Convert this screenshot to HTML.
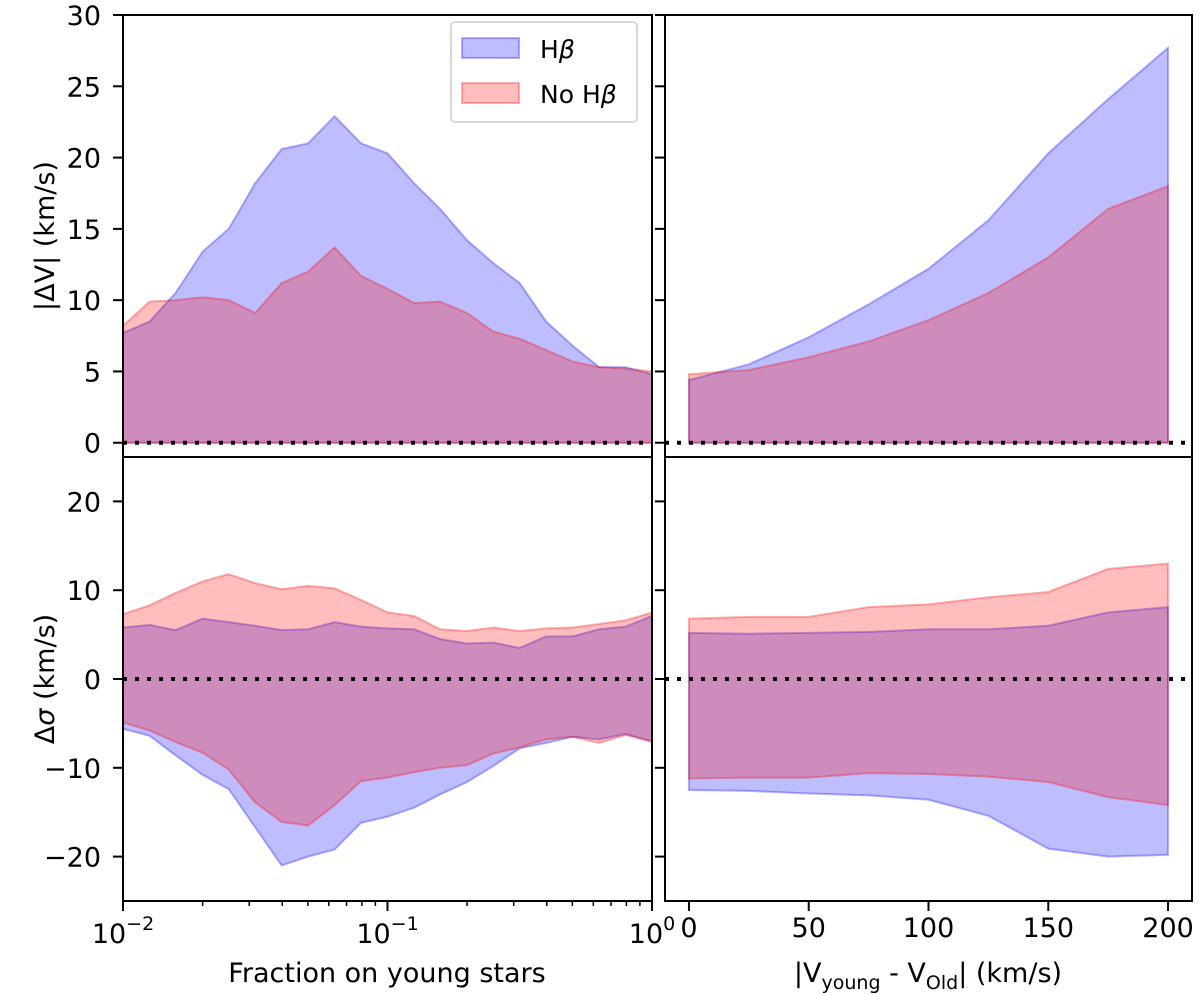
<!DOCTYPE html>
<html><head><meta charset="utf-8"><style>body{margin:0;background:#fff}svg{display:block;font-family:"DejaVu Sans","Liberation Sans",sans-serif}</style></head>
<body>
<svg id="c" width="1200" height="995"></svg>
<script>
const fracX=[0.01,0.0126,0.0158,0.02,0.0251,0.0316,0.0398,0.0501,0.0631,0.0794,0.1,0.126,0.158,0.2,0.251,0.316,0.398,0.501,0.631,0.794,1];
const dvHb=[7.7,8.5,10.5,13.4,15,18.2,20.6,21,22.9,21,20.3,18.2,16.4,14.2,12.6,11.2,8.5,6.8,5.3,5.3,4.8];
const dvNo=[8.2,9.9,10,10.2,10,9.1,11.2,12,13.7,11.7,10.8,9.8,9.9,9.1,7.8,7.3,6.5,5.7,5.3,5.2,5.0];
const dsHbUp=[5.8,6.1,5.5,6.8,6.4,6,5.5,5.6,6.4,5.9,5.7,5.6,4.5,4,4.1,3.5,4.8,4.8,5.6,5.9,7.1];
const dsHbLo=[-5.6,-6.4,-8.6,-10.8,-12.4,-16.7,-21,-20,-19.2,-16.2,-15.5,-14.5,-13,-11.6,-9.8,-7.8,-7.2,-6.5,-6.8,-6.2,-7];
const dsNoUp=[7.3,8.3,9.7,11,11.8,10.8,10.1,10.5,10.2,8.9,7.5,7.1,5.6,5.4,5.8,5.4,5.7,5.8,6.2,6.6,7.5];
const dsNoLo=[-4.9,-5.8,-7.1,-8.3,-10.2,-13.9,-16.1,-16.5,-14.2,-11.5,-11.1,-10.5,-10,-9.7,-8.4,-7.7,-6.8,-6.5,-7.2,-6.3,-7.1];
const velX=[0,25,50,75,100,125,150,175,200];
const rvHb=[4.4,5.5,7.4,9.7,12.2,15.6,20.3,24.1,27.7];
const rvNo=[4.8,5.1,6,7.1,8.6,10.5,13,16.4,18];
const rsHbUp=[5.2,5.1,5.2,5.3,5.6,5.6,6,7.5,8.1];
const rsHbLo=[-12.5,-12.6,-12.9,-13.1,-13.6,-15.4,-19.1,-20,-19.8];
const rsNoUp=[6.8,7,7,8.1,8.4,9.2,9.8,12.4,13];
const rsNoLo=[-11.2,-11.1,-11.1,-10.6,-10.7,-11,-11.6,-13.3,-14.2];
const topTicks=[0,5,10,15,20,25,30];
const botTicks=[-20,-10,0,10,20];
const velTicks=[0,50,100,150,200];

const NS="http://www.w3.org/2000/svg",svg=document.getElementById('c');
function el(t,a,p){const e=document.createElementNS(NS,t);for(const k in a)e.setAttribute(k,a[k]);(p||svg).appendChild(e);return e;}
const L={x0:123,x1:652},R={x0:665,x1:1192},T={y0:15,y1:457},B={y0:457,y1:901};
const xLog=v=>L.x0+(Math.log10(v)+2)/2*(L.x1-L.x0);
const xLin=v=>R.x0+(v+10)/220*(R.x1-R.x0);
const yTop=v=>T.y1-(v+1)/31*(T.y1-T.y0);
const yBot=v=>B.y1-(v+25)/50*(B.y1-B.y0);
const BLUE={fill:'rgba(0,0,255,0.26)',stroke:'rgba(0,0,255,0.3)'},RED={fill:'rgba(255,0,0,0.26)',stroke:'rgba(255,0,0,0.3)'};
function band(xs,up,lo,fx,fy,c,name){
  let d='M'+xs.map((x,i)=>fx(x)+','+fy(up[i])).join('L');
  for(let i=xs.length-1;i>=0;i--)d+='L'+fx(xs[i])+','+fy(lo?lo[i]:0);
  const p=el('path',{d:d+'Z',fill:c.fill,stroke:c.stroke,'stroke-width':2});
  
  
}
band(fracX,dvHb,null,xLog,yTop,BLUE,'dv-hbeta-area');
band(fracX,dvNo,null,xLog,yTop,RED,'dv-nohbeta-area');
band(fracX,dsHbUp,dsHbLo,xLog,yBot,BLUE,'dsigma-hbeta-area');
band(fracX,dsNoUp,dsNoLo,xLog,yBot,RED,'dsigma-nohbeta-area');
band(velX,rvHb,null,xLin,yTop,BLUE,'dv-vel-hbeta-area');
band(velX,rvNo,null,xLin,yTop,RED,'dv-vel-nohbeta-area');
band(velX,rsHbUp,rsHbLo,xLin,yBot,BLUE,'dsigma-vel-hbeta-area');
band(velX,rsNoUp,rsNoLo,xLin,yBot,RED,'dsigma-vel-nohbeta-area');
[[L,yTop(0)],[R,yTop(0)],[L,yBot(0)],[R,yBot(0)]].forEach(([P,y])=>{
  const z=el('line',{x1:P.x0,x2:P.x1,y1:y,y2:y,stroke:'#000','stroke-width':4,'stroke-dasharray':'4,8'});
  
  
});
[[L,T],[R,T],[L,B],[R,B]].forEach(([P,Q])=>{
  const f=el('rect',{x:P.x0,y:Q.y0,width:P.x1-P.x0,height:Q.y1-Q.y0,fill:'none',stroke:'#000','stroke-width':2});
  
  
});
function text(x,y,s,anchor,name,extra){const t=el('text',Object.assign({x:x,y:y,'font-size':27,'text-anchor':anchor,fill:'#000'},extra||{}));t.innerHTML=s;return t;}
topTicks.forEach(v=>{const y=yTop(v);
  [L.x0,R.x0].forEach(x=>el('line',{x1:x-10,x2:x,y1:y,y2:y,stroke:'#000','stroke-width':2}));
  text(101,y+10,v,'end','y-tick-label-top');});
botTicks.forEach(v=>{const y=yBot(v);
  [L.x0,R.x0].forEach(x=>el('line',{x1:x-10,x2:x,y1:y,y2:y,stroke:'#000','stroke-width':2}));
  text(101,y+10,(v<0?'−':'')+Math.abs(v),'end','y-tick-label-bottom');});
[0.01,0.1,1].forEach((v,i)=>{const x=xLog(v);
  el('line',{x1:x,x2:x,y1:B.y1,y2:B.y1+10,stroke:'#000','stroke-width':2});
  text(x,943,'10<tspan dy="-13" font-size="19">'+(i==2?'0':'−'+(2-i))+'</tspan>','middle','x-tick-label-fraction');});
for(let d=-2;d<0;d++)for(let m=2;m<10;m++){const x=xLog(m*Math.pow(10,d));el('line',{x1:x,x2:x,y1:B.y1,y2:B.y1+5,stroke:'#000','stroke-width':1.5});}
velTicks.forEach(v=>{const x=xLin(v);
  el('line',{x1:x,x2:x,y1:B.y1,y2:B.y1+10,stroke:'#000','stroke-width':2});
  text(x,937,v,'middle','x-tick-label-velocity');});
text(387,982,'Fraction on young stars','middle','x-axis-title-fraction');
text(928,982,'|V<tspan font-size="19" dy="7">young</tspan><tspan dy="-7"> - V</tspan><tspan font-size="19" dy="7">Old</tspan><tspan dy="-7">| (km/s)</tspan>','middle','x-axis-title-velocity');
text(0,0,'|ΔV| (km/s)','middle','y-axis-title-top',{transform:'translate(54,236) rotate(-90)'});
text(0,0,'Δ<tspan font-style="italic">σ</tspan> (km/s)','middle','y-axis-title-bottom',{transform:'translate(54,679) rotate(-90)'});
const lg=el('g',{});
el('rect',{x:451,y:22,width:186,height:100,rx:4,fill:'#fff',stroke:'#ccc','stroke-width':1.5},lg);
el('rect',{x:462,y:38,width:57,height:20,fill:BLUE.fill,stroke:BLUE.stroke,'stroke-width':2},lg);
el('rect',{x:462,y:83,width:57,height:20,fill:RED.fill,stroke:RED.stroke,'stroke-width':2},lg);
text(540,58,'H<tspan font-style="italic">β</tspan>','start','legend-entry-hbeta',{'font-size':25});
text(540,103,'No H<tspan font-style="italic">β</tspan>','start','legend-entry-nohbeta',{'font-size':25});
</script>
</body></html>
